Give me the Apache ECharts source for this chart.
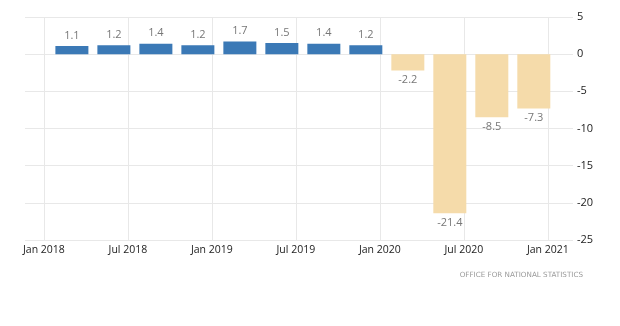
<!DOCTYPE html>
<html>
<head>
<meta charset="utf-8">
<script src="https://cdn.jsdelivr.net/npm/echarts@6/dist/echarts.min.js"></script>
<style>html,body{margin:0;padding:0;background:#fff}#c{width:620px;height:326px}</style>
</head>
<body>
<div id="c"></div>
<script>
// Quarterly values (GDP growth, year-on-year %)
var quarters = ['2018Q1','2018Q2','2018Q3','2018Q4','2019Q1','2019Q2','2019Q3','2019Q4','2020Q1','2020Q2','2020Q3','2020Q4'];
// position of each bar, in months since Jan 2018
var monthPos = [2, 5, 8, 11, 14, 17, 20, 23, 26, 29, 32, 35];
var values = [1.1, 1.2, 1.4, 1.2, 1.7, 1.5, 1.4, 1.2, -2.2, -21.4, -8.5, -7.3];
// x tick positions (months since Jan 2018) and their labels
var tickPos = [0, 6, 12, 18, 24, 30, 36];
var tickLabels = ['Jan 2018','Jul 2018','Jan 2019','Jul 2019','Jan 2020','Jul 2020','Jan 2021'];
var yTicks = [5, 0, -5, -10, -15, -20, -25];

var chart = echarts.init(document.getElementById('c'));
var data = values.map(function (v, i) {
  return {
    value: [monthPos[i], v],
    itemStyle: { color: v >= 0 ? '#3b79b6' : '#f5dbaa' },
    label: { position: v >= 0 ? 'top' : 'bottom', distance: v >= 0 ? 5 : 4 }
  };
});
chart.setOption({
  animation: false,
  title: {
    text: 'OFFICE FOR NATIONAL STATISTICS',
    right: 32, top: 267,
    textStyle: { fontSize: 7.2, fontWeight: 'normal', color: '#9a9a9a', fontFamily: 'DejaVu Sans' }
  },
  grid: { left: 25, right: 47, top: 17, bottom: 86, containLabel: false },
  xAxis: {
    type: 'value',
    min: -1.35, max: 37.8,
    axisLine: { show: false },
    axisTick: { show: true, length: 5, lineStyle: { color: '#e6e6e6' }, customValues: tickPos },
    axisLabel: {
      customValues: tickPos,
      margin: 5,
      fontSize: 10.5,
      color: '#222',
      fontFamily: 'Open Sans',
      formatter: function (v) { var i = tickPos.indexOf(Math.round(v)); return i >= 0 ? tickLabels[i] : ''; }
    },
    splitLine: { show: true, lineStyle: { color: '#e8e8e8' } }
  },
  yAxis: {
    type: 'value',
    position: 'right',
    min: -25, max: 5, interval: 5,
    axisLine: { show: false },
    axisTick: { show: false },
    axisLabel: { align: 'left', margin: 4, fontSize: 11, color: '#222', fontFamily: 'Open Sans' },
    splitLine: { show: true, lineStyle: { color: '#e8e8e8' } }
  },
  series: [{
    type: 'bar',
    barWidth: 33,
    data: data,
    label: {
      show: true,
      fontSize: 11,
      color: '#777',
      fontFamily: 'Open Sans',
      formatter: function (p) { return p.value[1].toFixed(1); }
    }
  }]
});
</script>
</body>
</html>
